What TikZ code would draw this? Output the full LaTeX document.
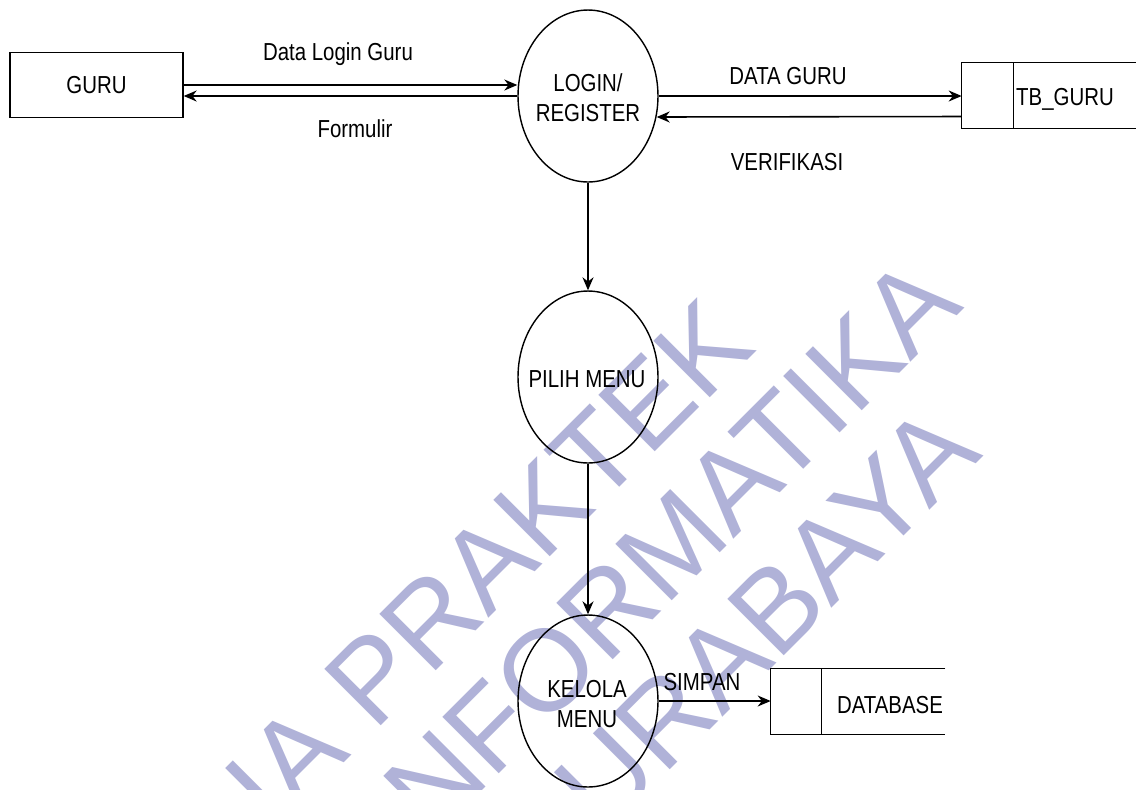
\documentclass[tikz,border=0pt]{standalone}
\usepackage{fontspec}
\setmainfont{Liberation Sans}[FakeStretch=0.83]
\newfontfamily\wmfont{Liberation Sans}
\usetikzlibrary{arrows.meta, shapes.geometric, calc}
\definecolor{wmcol}{RGB}{176,178,216}
\newcommand\dfdfont{\fontsize{14}{17}\selectfont}

\begin{document}
\begin{tikzpicture}[
    x=0.02cm, y=-0.02cm,
    proc/.style={draw, ellipse, line width=0.8pt, minimum width=2.8cm, minimum height=3.44cm, inner sep=0pt},
    ent/.style={draw, rectangle, line width=0.8pt, minimum width=3.46cm, minimum height=1.3cm, font=\dfdfont},
    store/.style={rectangle, minimum width=3.48cm, minimum height=1.3cm, inner sep=0pt},
    lbl/.style={font=\dfdfont, inner sep=0pt, align=center},
    arr/.style={-{Stealth[length=0.26cm, width=0.22cm]}, line width=0.9pt},
    wm/.style={text=wmcol, font=\wmfont\fontsize{66}{70}\selectfont, rotate=45, anchor=base east, inner sep=0pt}
]
\useasboundingbox (0,0) rectangle (1136,789);

% watermark
\begin{scope}
\clip (0,0) rectangle (1136,789);
\node[wm] (wmA) at (758,349) {IA PRAKTEK};
\node[wm] (wmB) at (965,308) {INFORMATIKA};
\node[wm] (wmC) at (984,456) {SURABAYA};
\end{scope}

% entity and processes
\node[ent] (guru) at (96.5,85) {GURU};
\node[proc] (login) at (588,96) {};
\node[proc] (pilih) at (588,377) {};
\node[proc] (kelola) at (588,701) {};
\node[lbl, anchor=base] (loginTxt) at (588,121) {LOGIN/\\REGISTER};
\node[lbl, anchor=base] (pilihTxt) at (587,387) {PILIH MENU};
\node[lbl, anchor=base] (kelolaTxt) at (587,727) {KELOLA\\MENU};

% data stores
\node[store] (tb) at (1049,95.5) {};
\draw[line width=0.8pt] (tb.north east) -| (tb.south west) -- (tb.south east);
\draw[line width=0.8pt] ($(tb.north west)+(52,0)$) -- ($(tb.south west)+(52,0)$);
\node[lbl, anchor=base] (tbTxt) at (1065,105) {TB\_GURU};

\node[store] (db) at (858,701.5) {};
\draw[line width=0.8pt] (db.north east) -| (db.south west) -- (db.south east);
\draw[line width=0.8pt] ($(db.north west)+(51,0)$) -- ($(db.south west)+(51,0)$);
\node[lbl, anchor=base] (dbTxt) at (890,713) {DATABASE};

% flows
\draw[arr] (guru.east) -- (guru.east -| login.west);
\draw[arr] (login.west) -- (login.west -| guru.east);
\draw[arr] (login.east) -- (login.east -| tb.west);
\draw[arr] ($(tb.west)+(0,21)$) -- ($(login.east)+(-2,21)$);
\draw[arr] (login) -- (pilih);
\draw[arr] (pilih) -- (kelola);
\draw[arr] (kelola.east) -- (kelola.east -| db.west);

% flow labels
\node[lbl, anchor=base] (fData) at (338,60) {Data Login Guru};
\node[lbl, anchor=base] (fForm) at (355,137) {Formulir};
\node[lbl, anchor=base] (fDataGuru) at (788,84) {DATA GURU};
\node[lbl, anchor=base] (fVerif) at (787,170) {VERIFIKASI};
\node[lbl, anchor=base] (fSimpan) at (702,690) {SIMPAN};
\end{tikzpicture}
\end{document}
